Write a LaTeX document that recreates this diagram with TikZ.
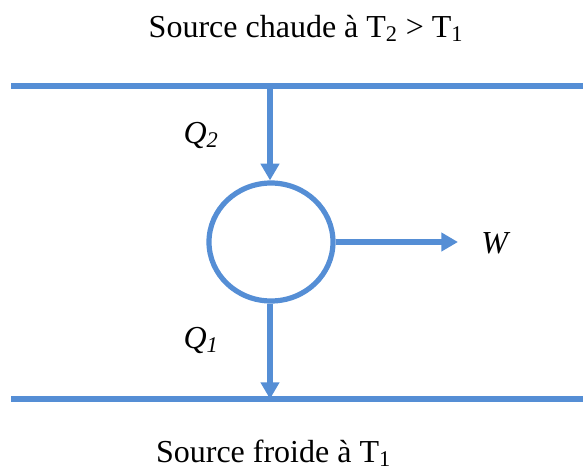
\documentclass[tikz,border=0pt]{standalone}
\usepackage{fontspec}
\setmainfont{Liberation Serif}
\usetikzlibrary{arrows.meta,shapes.geometric}
\definecolor{lineblue}{RGB}{85,142,213}
\tikzset{
  bar/.style={draw=lineblue, line width=3.9pt},
  flow/.style={draw=lineblue, line width=3.9pt, -{Triangle[width=13.5pt,length=12.5pt]}},
  lbl/.style={font=\fontsize{24}{28}\selectfont, anchor=base, inner sep=0pt},
}
\begin{document}
\begin{tikzpicture}[x=0.75pt,y=-0.75pt]
\useasboundingbox (0,0) rectangle (583,472);
% reservoirs
\coordinate (hotL) at (11,86);
\coordinate (hotR) at (583,86);
\coordinate (coldL) at (11,399);
\coordinate (coldR) at (583,399);
\coordinate (hot) at (270,86);
\coordinate (cold) at (270,399);
\coordinate (work) at (458,242);
\draw[bar] (hotL) -- (hotR);
\draw[bar] (coldL) -- (coldR);
% engine
\node[ellipse, draw=lineblue, line width=3.9pt, minimum width=124*0.75pt, minimum height=118*0.75pt, inner sep=0pt] (engine) at (271,242) {};
% flows
\draw[flow] (hot) -- (engine.north -| hot);
\draw[flow] (engine.south -| cold) -- (cold);
\draw[flow] (engine.east) -- (work);
% labels
\node[lbl] (title) at (306,37) {Source chaude à T\textsubscript{2} > T\textsubscript{1}};
\node[lbl] (bottom) at (273.5,462) {Source froide à T\textsubscript{1}};
\node[lbl] (q2) at (201,143) {\textit{Q}\textsubscript{\textit{2}}};
\node[lbl] (q1) at (201,348) {\textit{Q}\textsubscript{\textit{1}}};
\node[lbl] (w) at (496,253) {\textit{W}};
\end{tikzpicture}
\end{document}
